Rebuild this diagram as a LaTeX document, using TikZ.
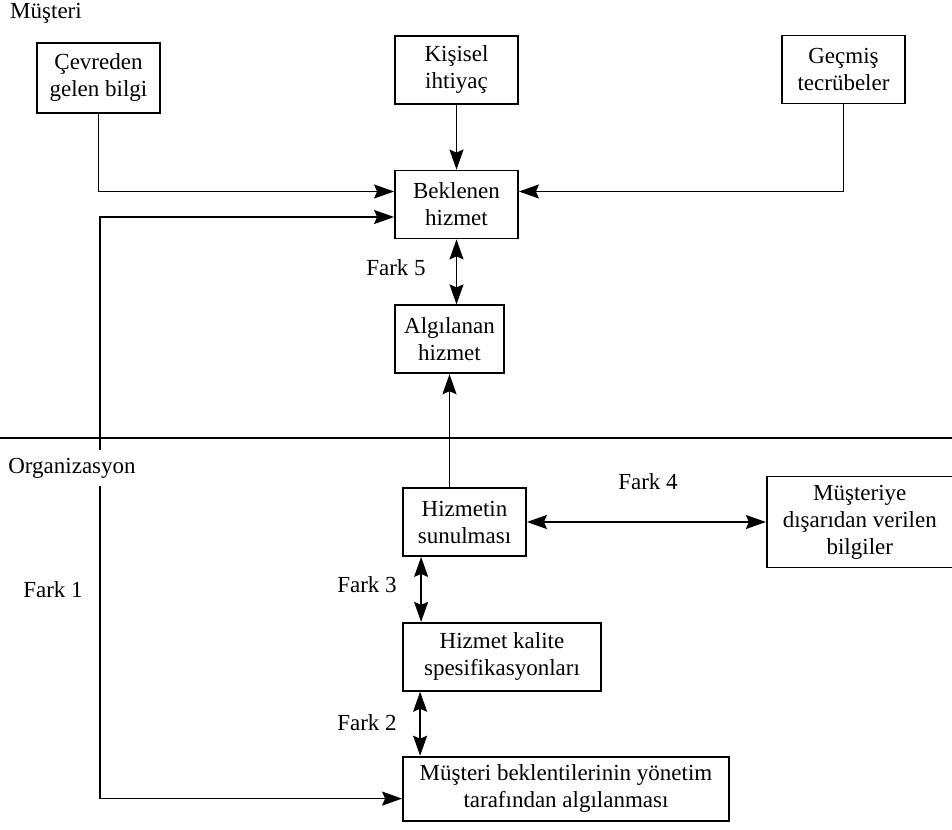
\documentclass[tikz,border=0pt]{standalone}
\usepackage{fontspec}
\setmainfont{Liberation Serif}
\usetikzlibrary{positioning,arrows.meta,calc}

\begin{document}
\begin{tikzpicture}[
  x=0.5pt,y=-0.5pt,
  font=\fontsize{11.5}{13.5}\selectfont,
  box/.style={rectangle,draw=black,line width=0.9pt,minimum height=34pt,
              minimum width=61.5pt,align=center,inner sep=2pt},
  arr/.style={-{Stealth[length=10pt,width=7pt,inset=1.5pt]},line width=0.8pt},
  biarr/.style={{Stealth[length=10pt,width=7pt,inset=1.5pt]}-{Stealth[length=10pt,width=7pt,inset=1.5pt]},
                line width=0.8pt},
  lbl/.style={inner sep=1pt},
]
\useasboundingbox (0,0) rectangle (952,829);

% customer side
\node[box] (beklenen) at (456.5,204.5) {Beklenen\\hizmet};
\node[box,above=32.5pt of beklenen] (kisisel) {Kişisel\\ihtiyaç};
\node[box,minimum height=35pt] (cevre) at (98.5,78) {Çevreden\\gelen bilgi};
\node[box] (gecmis) at (843.5,69.5) {Geçmiş\\tecrübeler};
\node[box,minimum width=54.5pt,below=32.5pt of beklenen.south west,anchor=north west]
   (algilanan) {Algılanan\\hizmet};

% organisation side
\node[box] (sunum) at (464.5,522) {Hizmetin\\sunulması};
\node[box,minimum width=99pt,below=32.5pt of sunum.south west,anchor=north west]
   (kalite) {Hizmet kalite\\spesifikasyonları};
\node[box,minimum width=163pt,minimum height=32pt,below=32pt of kalite.south west,anchor=north west]
   (yonetim) {Müşteri beklentilerinin yönetim\\tarafından algılanması};
\node[box,minimum width=93pt,minimum height=45.5pt,right=119.5pt of sunum]
   (bilgi) {Müşteriye\\dışarıdan verilen\\bilgiler};

% dividing line
\coordinate (sepL) at (0,438);
\coordinate (sepR) at (952,438);
\draw[line width=0.9pt] (sepL) -- (sepR);

% inputs to the expected service
\draw[arr] (cevre.south) |- ([yshift=6.5pt]beklenen.west);
\draw[arr] (kisisel) -- (beklenen);
\draw[arr] (gecmis.south) |- ([yshift=6.5pt]beklenen.east);

% gaps
\coordinate (fb) at (100,500);
\draw[biarr] ([yshift=-6.25pt]beklenen.west) -| (fb) |- ([yshift=-5pt]yonetim.west);
\draw[biarr] (beklenen.south) -- (beklenen.south |- algilanan.north);
\draw[arr] (sunum.north -| algilanan.south) -- (algilanan.south);
\draw[biarr] (sunum.east) -- (sunum.east -| bilgi.west);
\coordinate (f3) at ([xshift=9.5pt]sunum.south west);
\draw[biarr] (f3) -- (f3 |- kalite.north);
\coordinate (f2) at ([xshift=9pt]kalite.south west);
\draw[biarr] (f2) -- (f2 |- yonetim.north);

% labels
\node[lbl] (musteri) at (46,13) {Müşteri};
\node[lbl,fill=white,inner ysep=4pt] (org) at (72,468) {Organizasyon};
\node[lbl] (fark1) at (53,590) {Fark 1};
\node[lbl] (fark2) at (367,723) {Fark 2};
\node[lbl] (fark3) at (367,585) {Fark 3};
\node[lbl] (fark4) at (648,482) {Fark 4};
\node[lbl] (fark5) at (396,268) {Fark 5};
\end{tikzpicture}
\end{document}
